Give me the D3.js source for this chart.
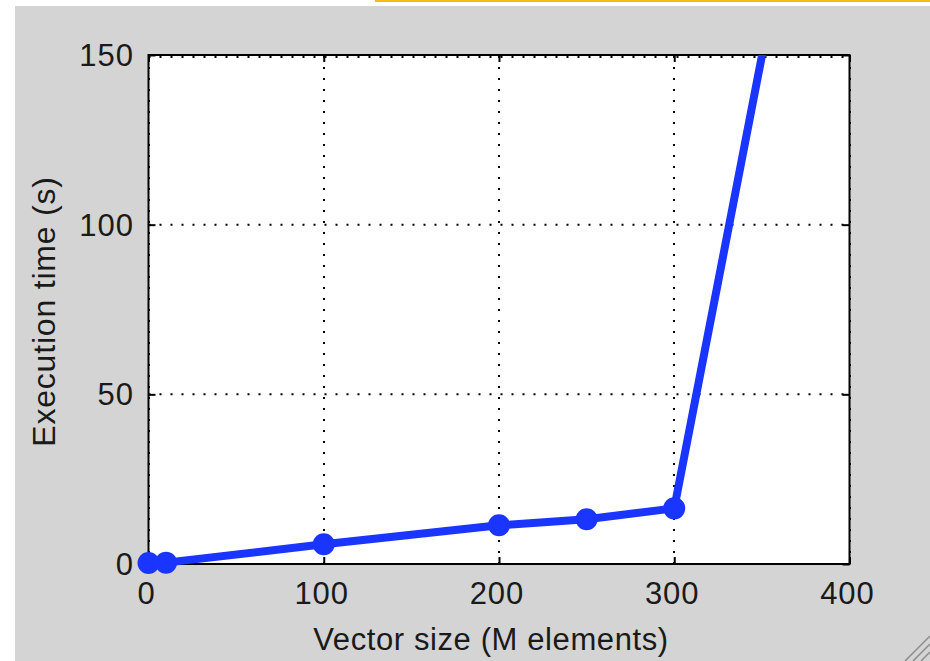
<!DOCTYPE html>
<html>
<head>
<meta charset="utf-8">
<script src="https://cdn.jsdelivr.net/npm/d3@7"></script>
<style>
  html, body { margin: 0; padding: 0; background: #ffffff; }
  svg { display: block; }
  text { font-family: "Liberation Sans", Arial, sans-serif; }
</style>
</head>
<body>
<div id="chart"></div>
<script>
// ---- data ----
const vectorSizes = [0, 10, 100, 200, 250, 300, 400];   // M elements
const execTimes   = [0.3, 0.4, 5.8, 11.4, 13.2, 16.4, 283]; // seconds
const xTicks = [0, 100, 200, 300, 400];
const yTicks = [0, 50, 100, 150];
const xLabel = "Vector size (M elements)";
const yLabel = "Execution time (s)";

// ---- layout ----
const W = 930, H = 661;
const plot = { left: 148.5, right: 849.5, top: 55, bottom: 564 };

const svg = d3.select("#chart").append("svg")
  .attr("width", W).attr("height", H);

// figure background
svg.append("rect").attr("x", 15).attr("y", 6)
  .attr("width", W - 15).attr("height", H - 6).attr("fill", "#d4d4d4");
// orange strip at top
svg.append("rect").attr("x", 375).attr("y", 0)
  .attr("width", W - 375).attr("height", 2).attr("fill", "#f5bf10");

const x = d3.scaleLinear().domain([0, 400]).range([plot.left, plot.right]);
const y = d3.scaleLinear().domain([0, 150]).range([plot.bottom, plot.top]);

// axes background
svg.append("rect")
  .attr("x", plot.left).attr("y", plot.top)
  .attr("width", plot.right - plot.left).attr("height", plot.bottom - plot.top)
  .attr("fill", "#ffffff");

// grid
const grid = svg.append("g").attr("stroke", "#000").attr("stroke-width", 2)
  .attr("stroke-dasharray", "2,9").attr("fill", "none");
xTicks.forEach(t => {
  grid.append("line").attr("x1", Math.round(x(t))).attr("x2", Math.round(x(t)))
    .attr("y1", plot.bottom).attr("y2", plot.top);
});
yTicks.forEach(t => {
  const yy = t === 150 ? y(t) + 2 : y(t);
  grid.append("line").attr("x1", plot.left).attr("x2", plot.right)
    .attr("y1", yy).attr("y2", yy);
});

// axes with inward ticks
const tickLen = 7;
const xAxisB = d3.axisBottom(x).tickValues(xTicks).tickSize(-tickLen).tickFormat("");
const xAxisT = d3.axisTop(x).tickValues(xTicks).tickSize(-tickLen).tickFormat("");
const yAxisL = d3.axisLeft(y).tickValues(yTicks).tickSize(-tickLen).tickFormat("");
const yAxisR = d3.axisRight(y).tickValues(yTicks).tickSize(-tickLen).tickFormat("");

function styleAxis(g) {
  g.select(".domain").remove();
  g.selectAll(".tick line").attr("stroke", "#000").attr("stroke-width", 2);
}
svg.append("g").attr("transform", `translate(0,${plot.bottom})`).call(xAxisB).call(styleAxis);
svg.append("g").attr("transform", `translate(0,${plot.top})`).call(xAxisT).call(styleAxis);
svg.append("g").attr("transform", `translate(${plot.left},0)`).call(yAxisL).call(styleAxis);
svg.append("g").attr("transform", `translate(${plot.right},0)`).call(yAxisR).call(styleAxis);

// box
svg.append("rect")
  .attr("x", plot.left).attr("y", plot.top)
  .attr("width", plot.right - plot.left).attr("height", plot.bottom - plot.top)
  .attr("fill", "none").attr("stroke", "#000").attr("stroke-width", 2);

// tick labels
const fs = 31;
const textColor = "#1a1a1a";
svg.append("g").selectAll("text").data(xTicks).join("text")
  .attr("x", d => x(d) - 2).attr("y", 604)
  .attr("text-anchor", "middle").attr("font-size", fs).attr("fill", textColor)
  .attr("letter-spacing", "1px")
  .text(d => d);
svg.append("g").selectAll("text").data(yTicks).join("text")
  .attr("x", 134).attr("y", d => y(d))
  .attr("dy", "0.36em")
  .attr("text-anchor", "end").attr("font-size", fs).attr("fill", textColor)
  .attr("letter-spacing", "1px")
  .text(d => d);

// axis labels
svg.append("text").attr("x", 491).attr("y", 650)
  .attr("text-anchor", "middle").attr("font-size", fs).attr("fill", textColor)
  .attr("letter-spacing", "0.6px")
  .text(xLabel);
svg.append("text")
  .attr("transform", `translate(55,${(plot.top + plot.bottom) / 2 + 2}) rotate(-90)`)
  .attr("text-anchor", "middle").attr("font-size", 32).attr("fill", textColor)
  .attr("letter-spacing", "0.8px")
  .text(yLabel);

// clip for the data line
svg.append("clipPath").attr("id", "clip").append("rect")
  .attr("x", plot.left - 30).attr("y", plot.top)
  .attr("width", plot.right - plot.left + 60).attr("height", plot.bottom - plot.top + 30);

const data = vectorSizes.map((v, i) => ({ v, t: execTimes[i] }));
const blue = "#1a35ff";

svg.append("path")
  .datum(data)
  .attr("clip-path", "url(#clip)")
  .attr("fill", "none").attr("stroke", blue).attr("stroke-width", 8)
  .attr("stroke-linejoin", "round")
  .attr("d", d3.line().x(d => x(d.v)).y(d => y(d.t)));

svg.append("g").selectAll("circle")
  .data(data.filter(d => d.t <= 150 && d.v <= 400))
  .join("circle")
  .attr("cx", d => x(d.v)).attr("cy", d => y(d.t))
  .attr("r", 11).attr("fill", blue);

// resize grip in bottom-right corner
const grip = svg.append("g").attr("stroke", "#8a8a8a").attr("stroke-width", 1.5);
[0, 8, 16].forEach(o => {
  grip.append("line").attr("x1", 905 + o).attr("y1", H).attr("x2", W).attr("y2", 636 + o);
});
</script>
</body>
</html>
